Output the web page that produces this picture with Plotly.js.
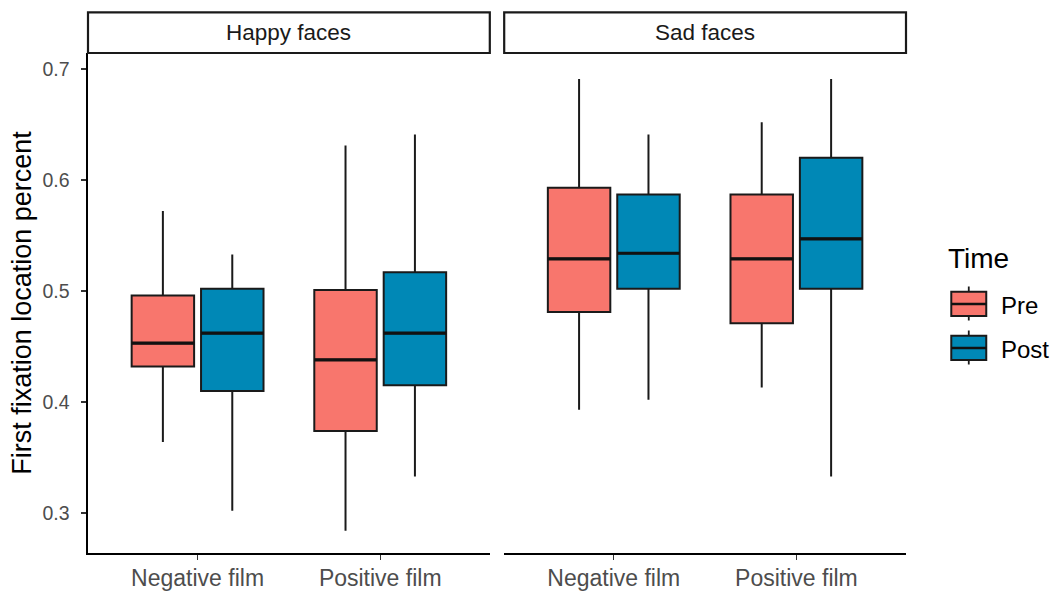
<!DOCTYPE html>
<html>
<head>
<meta charset="utf-8">
<script src="https://cdn.plot.ly/plotly-3.0.1.min.js"></script>
<style>
  html, body { margin: 0; padding: 0; background: #ffffff; }
  #chart { width: 1056px; height: 594px; }
</style>
</head>
<body>
<div id="chart"></div>
<script>
// Film conditions on the x axis of each facet
const films = ['Negative film', 'Positive film'];
const facets = ['Happy faces', 'Sad faces'];
const timeNames = ['Pre', 'Post'];
const timeColors = ['#F8766D', '#0088B6'];

// Box statistics, one entry per film, per facet
// Happy faces
const happyPreUpper  = [0.572, 0.631];
const happyPreQ3     = [0.496, 0.501];
const happyPreMedian = [0.453, 0.438];
const happyPreQ1     = [0.432, 0.374];
const happyPreLower  = [0.364, 0.284];

const happyPostUpper  = [0.533, 0.641];
const happyPostQ3     = [0.502, 0.517];
const happyPostMedian = [0.462, 0.462];
const happyPostQ1     = [0.410, 0.415];
const happyPostLower  = [0.302, 0.333];

// Sad faces
const sadPreUpper  = [0.691, 0.652];
const sadPreQ3     = [0.593, 0.587];
const sadPreMedian = [0.529, 0.529];
const sadPreQ1     = [0.481, 0.471];
const sadPreLower  = [0.393, 0.413];

const sadPostUpper  = [0.641, 0.691];
const sadPostQ3     = [0.587, 0.620];
const sadPostMedian = [0.534, 0.547];
const sadPostQ1     = [0.502, 0.502];
const sadPostLower  = [0.402, 0.333];

const yTicks = [0.3, 0.4, 0.5, 0.6, 0.7];

const FONT = 'Liberation Sans, Arial, sans-serif';

function boxTrace(name, color, xa, lower, q1, med, q3, upper) {
  return {
    type: 'box',
    name: name,
    offsetgroup: name,
    x: films,
    lowerfence: lower,
    q1: q1,
    median: med,
    q3: q3,
    upperfence: upper,
    xaxis: xa,
    yaxis: 'y',
    fillcolor: color,
    line: { color: '#1a1a1a', width: 2 },
    whiskerwidth: 0,
    boxpoints: false,
    showlegend: false,
    hoverinfo: 'skip'
  };
}

// Heavier median bar drawn over each box (a flat box sitting on the median)
function medianTrace(name, xa, med) {
  return {
    type: 'box',
    name: name,
    offsetgroup: name,
    x: films,
    lowerfence: med, q1: med, median: med, q3: med, upperfence: med,
    xaxis: xa,
    yaxis: 'y',
    fillcolor: 'rgba(0,0,0,0)',
    line: { color: '#111111', width: 3.2 },
    whiskerwidth: 0,
    boxpoints: false,
    showlegend: false,
    hoverinfo: 'skip'
  };
}

const traces = [
  boxTrace(timeNames[0], timeColors[0], 'x',  happyPreLower,  happyPreQ1,  happyPreMedian,  happyPreQ3,  happyPreUpper),
  boxTrace(timeNames[1], timeColors[1], 'x',  happyPostLower, happyPostQ1, happyPostMedian, happyPostQ3, happyPostUpper),
  boxTrace(timeNames[0], timeColors[0], 'x2', sadPreLower,    sadPreQ1,    sadPreMedian,    sadPreQ3,    sadPreUpper),
  boxTrace(timeNames[1], timeColors[1], 'x2', sadPostLower,   sadPostQ1,   sadPostMedian,   sadPostQ3,   sadPostUpper),
  medianTrace(timeNames[0], 'x',  happyPreMedian),
  medianTrace(timeNames[1], 'x',  happyPostMedian),
  medianTrace(timeNames[0], 'x2', sadPreMedian),
  medianTrace(timeNames[1], 'x2', sadPostMedian)
];

// Page geometry of the panel area
const W = 1056, H = 594;
const M = { l: 88, r: 149.6, t: 53, b: 41 };
const plotW = W - M.l - M.r;
const plotH = H - M.t - M.b;
const px = v => (v - M.l) / plotW;      // page x -> paper x
const py = v => (H - M.b - v) / plotH;  // page y -> paper y

const xAxisBase = {
  type: 'category',
  categoryorder: 'array',
  categoryarray: films,
  range: [-0.6, 1.6],
  showline: true,
  linecolor: '#000000',
  linewidth: 1.6,
  ticks: 'outside',
  ticklen: 5,
  tickwidth: 1.4,
  tickcolor: '#333333',
  tickfont: { family: FONT, size: 23, color: '#4d4d4d' },
  ticklabelstandoff: -1,
  showgrid: false,
  zeroline: false,
  fixedrange: true,
  anchor: 'y'
};

const shapes = [];
const annotations = [];

// Facet strips
['x', 'x2'].forEach((xa, i) => {
  shapes.push({
    type: 'rect', xref: xa + ' domain', yref: 'paper',
    x0: 0, x1: 1, y0: 1, y1: py(12.3),
    line: { color: '#1a1a1a', width: 2.2 },
    fillcolor: '#ffffff', layer: 'above'
  });
  annotations.push({
    xref: xa + ' domain', yref: 'paper',
    x: 0.5, y: (1 + py(12.3)) / 2,
    text: facets[i], showarrow: false,
    xanchor: 'center', yanchor: 'middle',
    font: { family: FONT, size: 22.5, color: '#1a1a1a' }
  });
});

// Legend: title, keys and labels
annotations.push({
  xref: 'paper', yref: 'paper', x: px(946), y: py(258),
  text: 'Time', showarrow: false, xanchor: 'left', yanchor: 'middle',
  font: { family: FONT, size: 28, color: '#000000' }
});
timeNames.forEach((name, i) => {
  const cy = 304 + i * 44;
  const kx0 = 951.7, kx1 = 986.7, kxm = (kx0 + kx1) / 2;
  shapes.push({ type: 'line', xref: 'paper', yref: 'paper',
    x0: px(kxm), x1: px(kxm), y0: py(cy - 17.5), y1: py(cy + 16.5),
    line: { color: '#1a1a1a', width: 1.8 } });
  shapes.push({ type: 'rect', xref: 'paper', yref: 'paper',
    x0: px(kx0), x1: px(kx1), y0: py(cy - 12.3), y1: py(cy + 12),
    fillcolor: timeColors[i], line: { color: '#1a1a1a', width: 2 } });
  shapes.push({ type: 'line', xref: 'paper', yref: 'paper',
    x0: px(kx0), x1: px(kx1), y0: py(cy), y1: py(cy),
    line: { color: '#111111', width: 2.6 } });
  annotations.push({
    xref: 'paper', yref: 'paper', x: px(999), y: py(cy + 1),
    text: name, showarrow: false, xanchor: 'left', yanchor: 'middle',
    font: { family: FONT, size: 24, color: '#000000' }
  });
});

const layout = {
  width: W, height: H,
  margin: M,
  paper_bgcolor: '#ffffff',
  plot_bgcolor: '#ffffff',
  boxmode: 'group',
  boxgap: 0.24,
  boxgroupgap: 0.1,
  showlegend: false,
  font: { family: FONT, color: '#000000' },
  xaxis: Object.assign({}, xAxisBase, { domain: [0, px(490)] }),
  xaxis2: Object.assign({}, xAxisBase, { domain: [px(504.4), 1] }),
  yaxis: {
    domain: [0, 1],
    range: [0.264, 0.7144],
    tickvals: yTicks,
    ticktext: yTicks.map(v => v.toFixed(1)),
    showline: true,
    linecolor: '#000000',
    linewidth: 1.6,
    ticks: 'outside',
    ticklen: 5,
    tickwidth: 1.4,
    tickcolor: '#333333',
    tickfont: { family: FONT, size: 19.5, color: '#4d4d4d' },
    ticklabelstandoff: 8,
    showgrid: false,
    zeroline: false,
    fixedrange: true,
    anchor: 'x',
    title: {
      text: 'First fixation location percent',
      font: { family: FONT, size: 27, color: '#000000' },
      standoff: 3
    }
  },
  shapes: shapes,
  annotations: annotations
};

Plotly.newPlot('chart', traces, layout, { displayModeBar: false, staticPlot: true });
</script>
</body>
</html>
